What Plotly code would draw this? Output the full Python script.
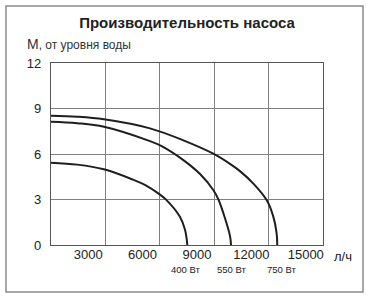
import plotly.graph_objects as go

# ---- data (flow l/h, head m) ----
flow_400 = [950, 2400, 3870, 5470, 6130, 6960, 7280, 8060, 8340, 8470]
head_400 = [5.43, 5.3, 4.99, 4.31, 3.96, 3.32, 3.01, 1.86, 1.0, 0]

flow_550 = [950, 2400, 3870, 6410, 7050, 8250, 9170, 9900, 10180, 10550, 10820, 10880]
head_550 = [8.13, 8.03, 7.8, 6.85, 6.52, 5.6, 4.68, 3.63, 3.01, 1.75, 0.6, 0]

flow_750 = [950, 2400, 3870, 6410, 8250, 9900, 10820, 11370, 12110, 12850, 13210, 13390, 13430]
head_750 = [8.53, 8.46, 8.29, 7.69, 6.9, 6.02, 5.35, 4.87, 4.05, 2.95, 1.87, 0.8, 0]

power_labels = ["400 Вт", "550 Вт", "750 Вт"]
x_ticks = [3000, 6000, 9000, 12000, 15000]
x_tick_text = ["3000", "6000", "9000", "12000", "15000"]
y_ticks = [0, 3, 6, 9, 12]

FONT = "Liberation Sans, Arial, sans-serif"
LINE = "#1e1e1e"

fig = go.Figure()
for fx, hy in [(flow_400, head_400), (flow_550, head_550), (flow_750, head_750)]:
    fig.add_trace(go.Scatter(x=fx, y=hy, mode="lines",
                             line=dict(color=LINE, width=2, shape="spline", smoothing=1.0),
                             hoverinfo="skip", showlegend=False))
# anchor trace for the grid axis
fig.add_trace(go.Scatter(x=[0, 15000], y=[0, 0], xaxis="x2", mode="lines",
                         line=dict(width=0, color="rgba(0,0,0,0)"),
                         hoverinfo="skip", showlegend=False))

fig.update_layout(
    width=370, height=298,
    margin=dict(l=51, r=47, t=63, b=53),
    paper_bgcolor="white", plot_bgcolor="white",
    font=dict(family=FONT, color="#222"),
    title=dict(text="<b>Производительность насоса</b>", x=0.5, xanchor="center",
               y=1 - 23 / 298, yanchor="middle", xref="paper",
               font=dict(size=15, color="#222", family=FONT)),
    xaxis=dict(range=[950, 15950], tickvals=x_ticks, ticktext=x_tick_text,
               showgrid=False, zeroline=False,
               showline=False, ticks="", tickfont=dict(size=13, color="#222")),
    xaxis2=dict(range=[0, 15000], overlaying="x", side="bottom", dtick=3000, tick0=0,
                showgrid=True, gridcolor="#808080", gridwidth=1, showticklabels=False,
                zeroline=False, showline=True, mirror=True, linecolor="#555", linewidth=1.2,
                ticks=""),
    yaxis=dict(range=[0, 12], tickvals=y_ticks, showgrid=True, gridcolor="#808080",
               gridwidth=1, zeroline=False, showline=True, mirror=True, linecolor="#555",
               linewidth=1.2, ticks="", ticklabelstandoff=6,
               tickfont=dict(size=13, color="#222")),
    showlegend=False,
)

# power labels under curve ends
ends = [flow_400[-1], flow_550[-1], flow_750[-1]]
shifts = [-1, 1, 5]
for xe, lab, sh in zip(ends, power_labels, shifts):
    fig.add_annotation(x=xe, xref="x", y=-0.132, yref="paper", yanchor="middle",
                       text=lab, showarrow=False, xshift=sh,
                       font=dict(size=9.5, color="#222", family=FONT))

fig.add_annotation(x=(332 - 51) / 272, xref="paper", xanchor="left",
                   y=-0.063, yref="paper", yanchor="middle",
                   text="л/ч", showarrow=False,
                   font=dict(size=13, color="#222", family=FONT))
fig.add_annotation(x=-0.0956, xref="paper", y=1.104, yref="paper", xanchor="left",
                   yanchor="middle",
                   text="<span style='font-size:14px'>М</span>, от уровня воды",
                   showarrow=False, font=dict(size=12, color="#333", family=FONT))

# outer frame
fig.add_shape(type="rect", xref="paper", yref="paper",
              x0=(6 - 51) / 272, x1=(363 - 51) / 272,
              y0=(245 - 292) / 182, y1=(245 - 6) / 182,
              line=dict(color="#8a8a8a", width=1.5), layer="below")

fig.write_html("out.html")
